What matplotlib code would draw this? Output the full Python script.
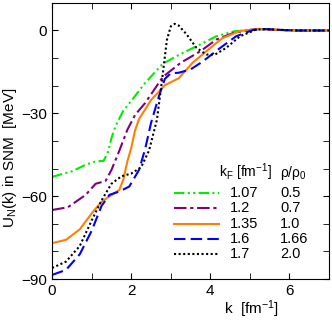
import matplotlib
matplotlib.use('Agg')
import matplotlib.pyplot as plt
from matplotlib.ticker import MultipleLocator

plt.rcParams['font.family'] = ['Liberation Sans', 'DejaVu Sans']
plt.rcParams['mathtext.default'] = 'regular'

# values: k in fm^-1, U_N in MeV
k_107 = [0, 0.5, 0.85, 1.1, 1.3, 1.4, 1.5, 1.6, 1.8, 2.0, 2.35, 2.8, 3.25, 3.75, 4.15, 4.6, 5.0, 5.3, 5.7, 6.2, 7]
u_107 = [-53, -51, -48.6, -47.4, -47.2, -44.5, -39, -34.7, -29, -25.5, -19, -12, -8.5, -5, -2.1, -0.3, 0.2, 0.5, 0.2, 0, 0]

k_12 = [0, 0.4, 0.85, 1.1, 1.35, 1.5, 1.7, 1.9, 2.1, 2.35, 2.8, 3.25, 3.75, 4.15, 4.6, 5.0, 5.3, 5.7, 6.2, 7]
u_12 = [-65, -64, -59.5, -55.5, -54.5, -50.5, -43.5, -36, -30.5, -26.3, -16.8, -11.7, -7.5, -3.3, -0.8, 0.2, 0.5, 0.2, 0, 0]

k_135 = [0, 0.35, 0.7, 1.0, 1.25, 1.5, 1.7, 1.8, 1.9, 2.0, 2.1, 2.2, 2.5, 2.85, 3.2, 3.55, 3.9, 4.3, 4.75, 5.2, 5.6, 6.2, 7]
u_135 = [-77, -75.8, -72, -66.2, -62, -59.6, -57.7, -54, -47.5, -42.5, -36, -32, -25.2, -19.8, -17.3, -11.7, -7.5, -2.8, -0.2, 0.6, 0.3, 0, 0]

k_16 = [0, 0.35, 0.7, 1.0, 1.25, 1.45, 1.7, 1.95, 2.2, 2.35, 2.5, 2.7, 2.85, 3.0, 3.2, 3.5, 3.8, 4.25, 4.65, 5.1, 5.4, 5.8, 6.2, 7]
u_16 = [-88.5, -86.7, -81, -72.5, -63.5, -59.5, -58.3, -56.5, -50.4, -43, -33.5, -23.8, -17.5, -15.5, -15.3, -14.1, -11.3, -6.3, -2.1, 0.3, 0.5, 0.2, 0, 0]

k_17 = [0, 0.35, 0.7, 1.0, 1.25, 1.5, 1.75, 2.0, 2.25, 2.45, 2.65, 2.78, 2.9, 3.0, 3.1, 3.2, 3.4, 3.65, 3.9, 4.12, 4.4, 4.75, 5.15, 5.4, 5.8, 6.2, 7]
u_17 = [-86, -83.7, -78, -68.8, -61.5, -55.5, -52.8, -51.8, -49.5, -43.5, -32.3, -17.8, -3.5, 1.5, 2.4, 1.8, -1.4, -6.3, -8.7, -8.7, -6.3, -2.1, 0.3, 0.5, 0.2, 0, 0]

kF_labels = ['1.07', '1.2', '1.35', '1.6', '1.7']
rho_labels = ['0.5', '0.7', '1.0', '1.66', '2.0']
colors = ['#00ee00', '#800080', '#ff8000', '#0000ff', 'black']
styles = [(0, (5, 1.6, 1, 1.6, 1, 1.6)), (0, (6, 1.8, 1.5, 1.8)), '-', (0, (5.5, 2.5)), (0, (1, 1.2))]

fig = plt.figure(figsize=(3.32, 3.2), dpi=100)
ax = fig.add_axes([0.157, 0.128, 0.834, 0.863])

series = [(k_107, u_107), (k_12, u_12), (k_135, u_135), (k_16, u_16), (k_17, u_17)]
for (k, u), c, ls in zip(series, colors, styles):
    ax.plot(k, u, color=c, linestyle=ls, lw=1.5)

ax.set_xlim(0, 7)
ax.set_ylim(-90, 10)
ax.xaxis.set_major_locator(MultipleLocator(2))
ax.xaxis.set_minor_locator(MultipleLocator(1))
ax.yaxis.set_major_locator(MultipleLocator(30))
ax.yaxis.set_minor_locator(MultipleLocator(10))
ax.tick_params(which='both', direction='in', top=True, right=True, labelsize=11)
ax.tick_params(which='major', length=4)
ax.tick_params(which='minor', length=4)

ax.set_xlabel('k  [fm$^{-1}$]', fontsize=11)
ax.xaxis.set_label_coords(0.72, -0.07)
ax.set_ylabel('U$_N$(k) in SNM  [MeV]', fontsize=11)
ax.yaxis.set_label_coords(-0.12, 0.44)

# hand-made two column legend
rows = [0.312, 0.257, 0.201, 0.145, 0.091]
ax.text(0.603, 0.368, 'k$_F$ [fm$^{-1}$]', transform=ax.transAxes, fontsize=10, va='baseline')
ax.text(0.823, 0.368, '$\\rho/\\rho_0$', transform=ax.transAxes, fontsize=10, va='baseline')
for yy, c, ls, a, b in zip(rows, colors, styles, kF_labels, rho_labels):
    ax.plot([0.44, 0.603], [yy, yy], color=c, linestyle=ls, lw=1.5, transform=ax.transAxes)
    ax.text(0.643, yy, a, transform=ax.transAxes, fontsize=10.5, va='center')
    ax.text(0.823, yy, b, transform=ax.transAxes, fontsize=10.5, va='center')

fig.savefig('out.png', dpi=100)
